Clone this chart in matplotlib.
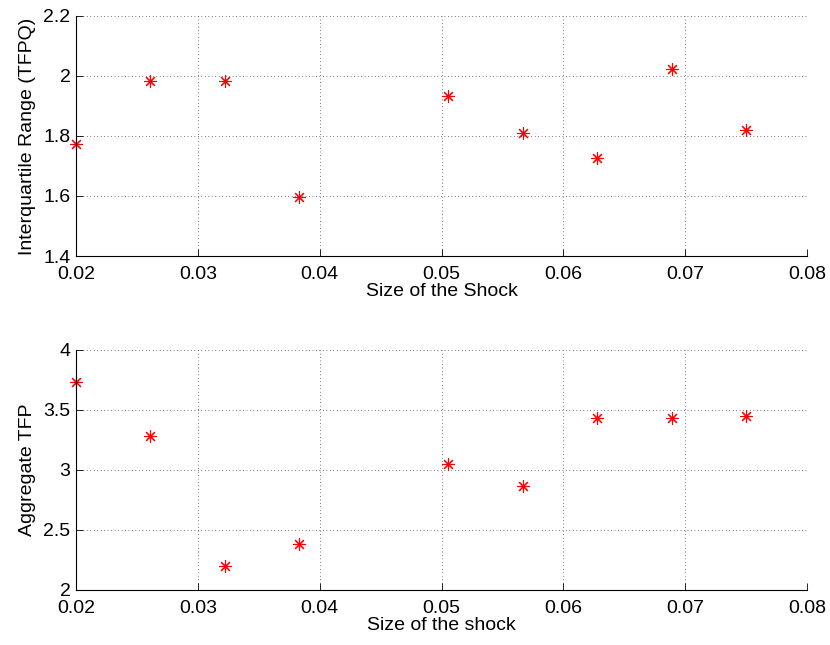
import numpy as np
import matplotlib
matplotlib.use('Agg')
import matplotlib.pyplot as plt
from matplotlib.ticker import FormatStrFormatter

plt.rcParams['font.family'] = ['Liberation Sans', 'DejaVu Sans']
plt.rcParams['font.size'] = 14

# shock sizes (one grid point missing, 0.0444)
shock = [0.02, 0.02611, 0.03222, 0.03833, 0.05056, 0.05667, 0.06278, 0.06889, 0.075]
iqr_tfpq = [1.772, 1.982, 1.982, 1.598, 1.932, 1.810, 1.726, 2.024, 1.821]
agg_tfp = [3.731, 3.283, 2.203, 2.381, 3.050, 2.867, 3.436, 3.436, 3.453]

xticks = [0.02, 0.03, 0.04, 0.05, 0.06, 0.07, 0.08]
yticks_top = [1.4, 1.6, 1.8, 2.0, 2.2]
yticks_bot = [2.0, 2.5, 3.0, 3.5, 4.0]

fig = plt.figure(figsize=(8.3, 6.45), dpi=100)
ax1 = fig.add_axes([0.0916, 0.6031, 0.8807, 0.3721])
ax2 = fig.add_axes([0.0916, 0.0853, 0.8807, 0.3721])

def style(ax, yticks, xlabel, ylabel):
    ax.set_xlim(0.02, 0.08)
    ax.set_ylim(yticks[0], yticks[-1])
    ax.set_xticks(xticks)
    ax.set_yticks(yticks)
    ax.xaxis.set_major_formatter(FormatStrFormatter('%g'))
    ax.yaxis.set_major_formatter(FormatStrFormatter('%g'))
    for s in ['top', 'right']:
        ax.spines[s].set_visible(False)
    for s in ['left', 'bottom']:
        ax.spines[s].set_linewidth(0.8)
    ax.tick_params(direction='in', length=5, width=0.6)
    ax.tick_params(axis='x', pad=7)
    ax.tick_params(axis='y', pad=4)
    ax.grid(True, color='black', linestyle=(0, (1, 4)), linewidth=0.5)
    ax.set_axisbelow(True)
    ax.set_xlabel(xlabel, labelpad=0)
    ax.set_ylabel(ylabel, labelpad=5)

ax1.plot(shock, iqr_tfpq, linestyle='none', marker=(8, 2, 0), markersize=9,
         markeredgecolor='red', markeredgewidth=0.8, clip_on=False)
style(ax1, yticks_top, 'Size of the Shock', 'Interquartile Range (TFPQ)')

ax2.plot(shock, agg_tfp, linestyle='none', marker=(8, 2, 0), markersize=9,
         markeredgecolor='red', markeredgewidth=0.8, clip_on=False)
style(ax2, yticks_bot, 'Size of the shock', 'Aggregate TFP')

fig.savefig('out.png', dpi=100)
